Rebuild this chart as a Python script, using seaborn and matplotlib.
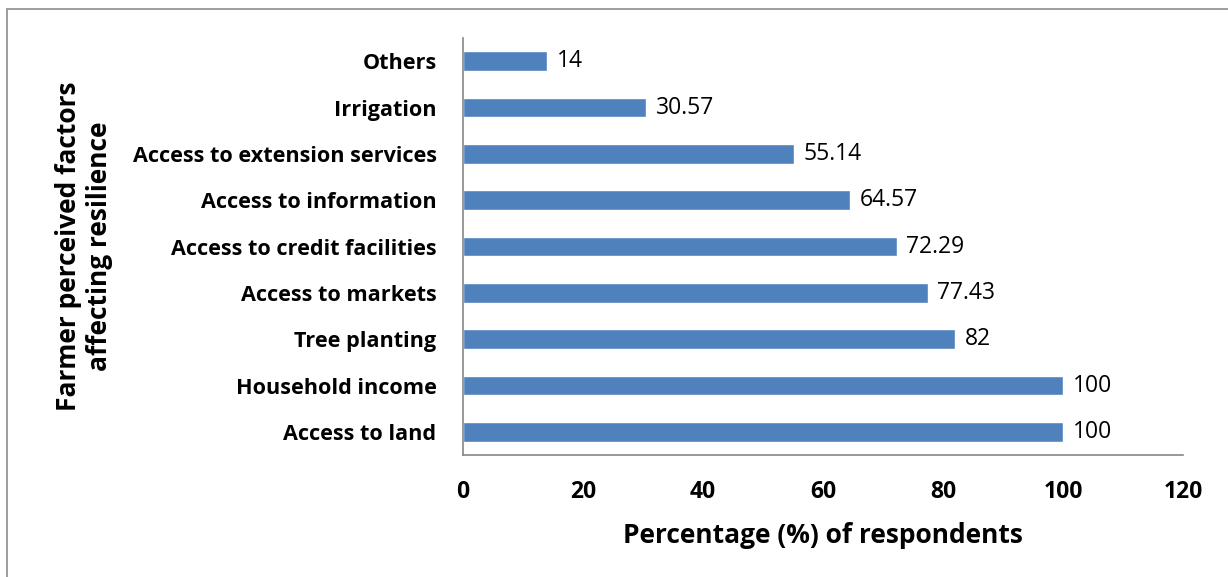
import numpy as np
import pandas as pd
import matplotlib.pyplot as plt
import seaborn as sns
from matplotlib.patches import Rectangle
from matplotlib.ticker import FixedLocator

factors = ['Others', 'Irrigation', 'Access to extension services', 'Access to information',
           'Access to credit facilities', 'Access to markets', 'Tree planting',
           'Household income', 'Access to land']
values = [14, 30.57, 55.14, 64.57, 72.29, 77.43, 82, 100, 100]
value_labels = ['14', '30.57', '55.14', '64.57', '72.29', '77.43', '82', '100', '100']

df = pd.DataFrame({'factor': factors, 'value': values})

sns.set_style('white')
plt.rcParams['font.family'] = ['Open Sans', 'DejaVu Sans']
plt.rcParams['text.color'] = 'black'
plt.rcParams['axes.labelcolor'] = 'black'
plt.rcParams['xtick.labelcolor'] = 'black'
plt.rcParams['ytick.labelcolor'] = 'black'

fig = plt.figure(figsize=(12.28, 5.77), dpi=100)
ax = fig.add_axes([463/1228, 1 - 455/577, 720/1228, (455 - 38)/577])

sns.barplot(data=df, x='value', y='factor', order=factors, color='#4F81BD',
            saturation=1, width=0.42, orient='h', ax=ax)

ax.set_xlim(0, 120)
ax.set_ylim(len(factors) - 0.5, -0.5)
ax.set_xticks(np.arange(0, 121, 20))
ax.yaxis.set_minor_locator(FixedLocator(np.arange(-0.5, len(factors), 1)))

for i, (v, lab) in enumerate(zip(values, value_labels)):
    ax.annotate(lab, (v, i), xytext=(7, 0), textcoords='offset points',
                va='center', ha='left', fontsize=16.5, color='black')

for s in ['top', 'right']:
    ax.spines[s].set_visible(False)
for s in ['left', 'bottom']:
    ax.spines[s].set_color('#868686')
    ax.spines[s].set_linewidth(1.2)

ax.tick_params(axis='y', which='major', length=0, pad=19, labelsize=15.6, labelcolor='black')
ax.tick_params(axis='y', which='minor', length=6, width=1.2, color='#868686', direction='out')
ax.tick_params(axis='x', which='major', length=6, width=1.2, color='#868686', direction='out',
               pad=12, labelsize=16.5, labelcolor='black')
for t in ax.get_yticklabels() + ax.get_xticklabels():
    t.set_fontweight('bold')

ax.set_xlabel('Percentage (%) of respondents', fontsize=19, fontweight='bold', labelpad=13,
              color='black')
ax.set_ylabel('Farmer perceived factors\naffecting resilience', fontsize=19, fontweight='bold',
              labelpad=14, linespacing=1.2, color='black')

fig.patches.append(Rectangle((7/1228, -0.05), 1.2, 1 - 9/577 + 0.05, transform=fig.transFigure,
                             fill=False, edgecolor='#8C8C8C', linewidth=1.2))

plt.savefig('out.png', dpi=100)
plt.close()
